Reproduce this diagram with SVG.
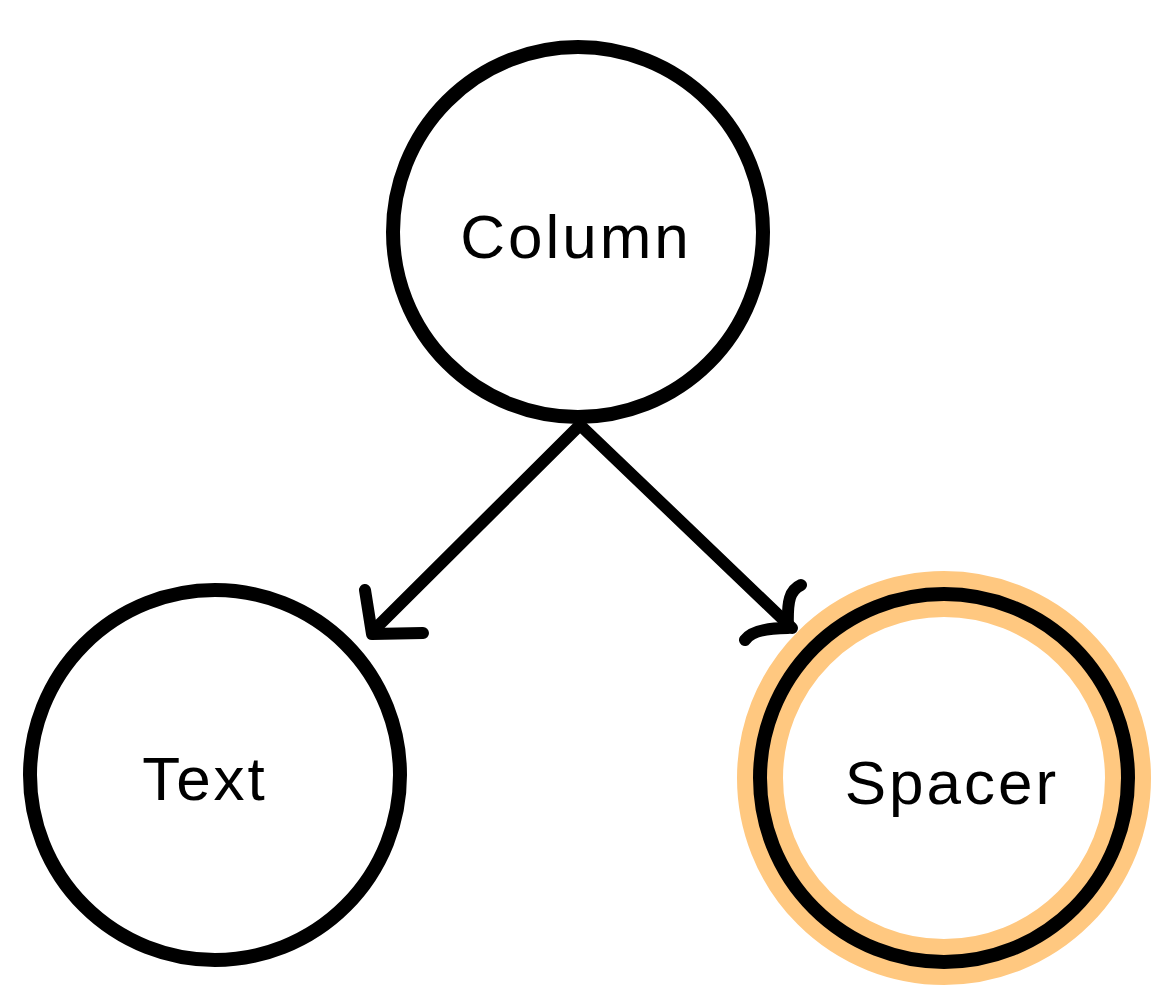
<svg xmlns="http://www.w3.org/2000/svg" width="1176" height="999" viewBox="0 0 1176 999">
<style>
.node{fill:#fff;stroke:#000;stroke-width:14}
.lbl{font-family:"Liberation Sans",Arial,sans-serif;font-size:62px;fill:#000;text-anchor:middle;dominant-baseline:central;letter-spacing:3px}
.edge{fill:none;stroke:#000;stroke-width:12;stroke-linecap:round;stroke-linejoin:round}
</style>
<rect width="1176" height="999" fill="#fff"/>
<g id="column">
<circle class="node" cx="578" cy="232" r="185"/>
<text class="lbl" x="576" y="236">Column</text>
</g>
<g id="text">
<circle class="node" cx="215" cy="775" r="185"/>
<text class="lbl" x="205" y="778">Text</text>
</g>
<g id="spacer">
<circle cx="944" cy="778" r="184" fill="#fff" stroke="#FFC880" stroke-width="46"/>
<circle cx="944" cy="778" r="184" fill="none" stroke="#000" stroke-width="14"/>
<text class="lbl" x="952" y="782">Spacer</text>
</g>
<g id="connectors">
<path class="edge" d="M580 425 L372 632"/>
<path class="edge" d="M365 590 L372 634 L423 633"/>
<path class="edge" d="M580 425 L792 628"/>
<path class="edge" d="M801 585 C790 590 787 600 788 628 C770 628 752 630 745 640"/>
</g>
</svg>
